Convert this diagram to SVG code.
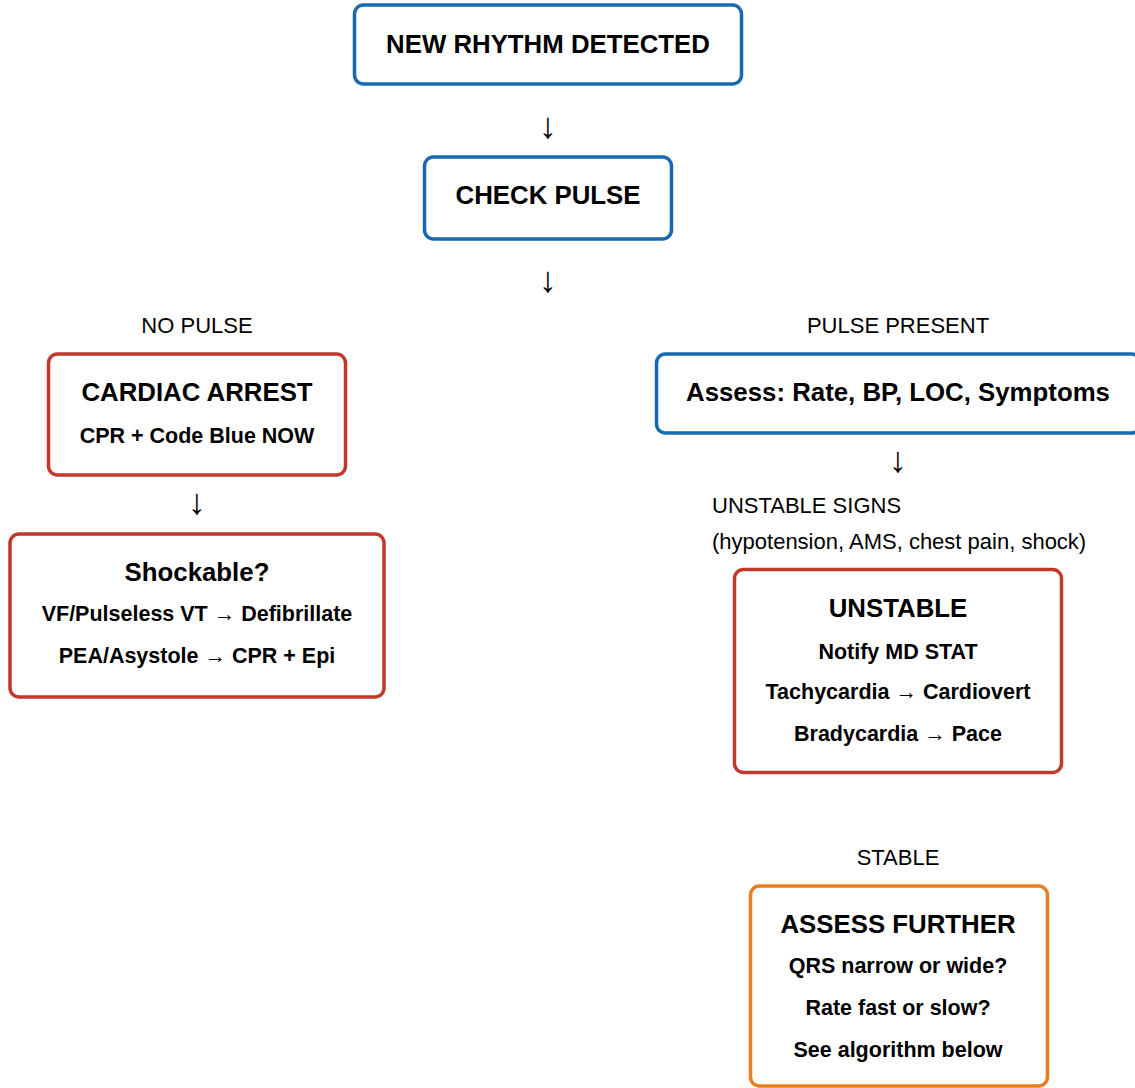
<svg xmlns="http://www.w3.org/2000/svg" width="1135" height="1088" viewBox="0 0 1135 1088">
<style>
text{font-family:"Liberation Sans",Arial,sans-serif;fill:#000;text-anchor:middle}
.box{fill:#fff;stroke-width:3.5}
.blue{stroke:#1769b4}
.red{stroke:#c0392b}
.orange{stroke:#e67e22}
.t{font-size:25.8px;font-weight:bold}
.s{font-size:21.5px;font-weight:bold}
.lbl{font-size:22px}
.arr{font-size:36px}
</style>
<rect width="1135" height="1088" fill="#fff"/>
<g id="connectors">
<text class="arr" x="548" y="138">↓</text>
<text class="arr" x="548" y="292">↓</text>
<text class="arr" x="197" y="514">↓</text>
<text class="arr" x="898" y="472">↓</text>
<text class="lbl" x="197" y="333">NO PULSE</text>
<text class="lbl" x="898" y="333">PULSE PRESENT</text>
<text class="lbl" x="712" y="513" style="text-anchor:start">UNSTABLE SIGNS</text>
<text class="lbl" x="712" y="549" style="text-anchor:start">(hypotension, AMS, chest pain, shock)</text>
<text class="lbl" x="898" y="865">STABLE</text>
</g>
<g id="new-rhythm">
<rect class="box blue" x="354.5" y="5" width="387" height="79" rx="9"/>
<text class="t" x="548" y="53">NEW RHYTHM DETECTED</text>
</g>
<g id="check-pulse">
<rect class="box blue" x="424.5" y="157" width="247" height="82" rx="9"/>
<text class="t" x="548" y="204">CHECK PULSE</text>
</g>
<g id="cardiac-arrest">
<rect class="box red" x="48.5" y="354" width="297" height="121" rx="9"/>
<text class="t" x="197" y="401">CARDIAC ARREST</text>
<text class="s" x="197" y="443">CPR + Code Blue NOW</text>
</g>
<g id="shockable">
<rect class="box red" x="10" y="534" width="374" height="163" rx="9"/>
<text class="t" x="197" y="581">Shockable?</text>
<text class="s" x="197" y="621">VF/Pulseless VT → Defibrillate</text>
<text class="s" x="197" y="663">PEA/Asystole → CPR + Epi</text>
</g>
<g id="assess">
<rect class="box blue" x="656.5" y="354" width="484" height="79" rx="9"/>
<text class="t" x="898" y="401">Assess: Rate, BP, LOC, Symptoms</text>
</g>
<g id="unstable">
<rect class="box red" x="734.5" y="569.5" width="327" height="203" rx="9"/>
<text class="t" x="898" y="617">UNSTABLE</text>
<text class="s" x="898" y="659">Notify MD STAT</text>
<text class="s" x="898" y="699">Tachycardia → Cardiovert</text>
<text class="s" x="898" y="741">Bradycardia → Pace</text>
</g>
<g id="assess-further">
<rect class="box orange" x="750.5" y="886" width="297" height="200" rx="9"/>
<text class="t" x="898" y="933">ASSESS FURTHER</text>
<text class="s" x="898" y="973">QRS narrow or wide?</text>
<text class="s" x="898" y="1015">Rate fast or slow?</text>
<text class="s" x="898" y="1057">See algorithm below</text>
</g>
</svg>
